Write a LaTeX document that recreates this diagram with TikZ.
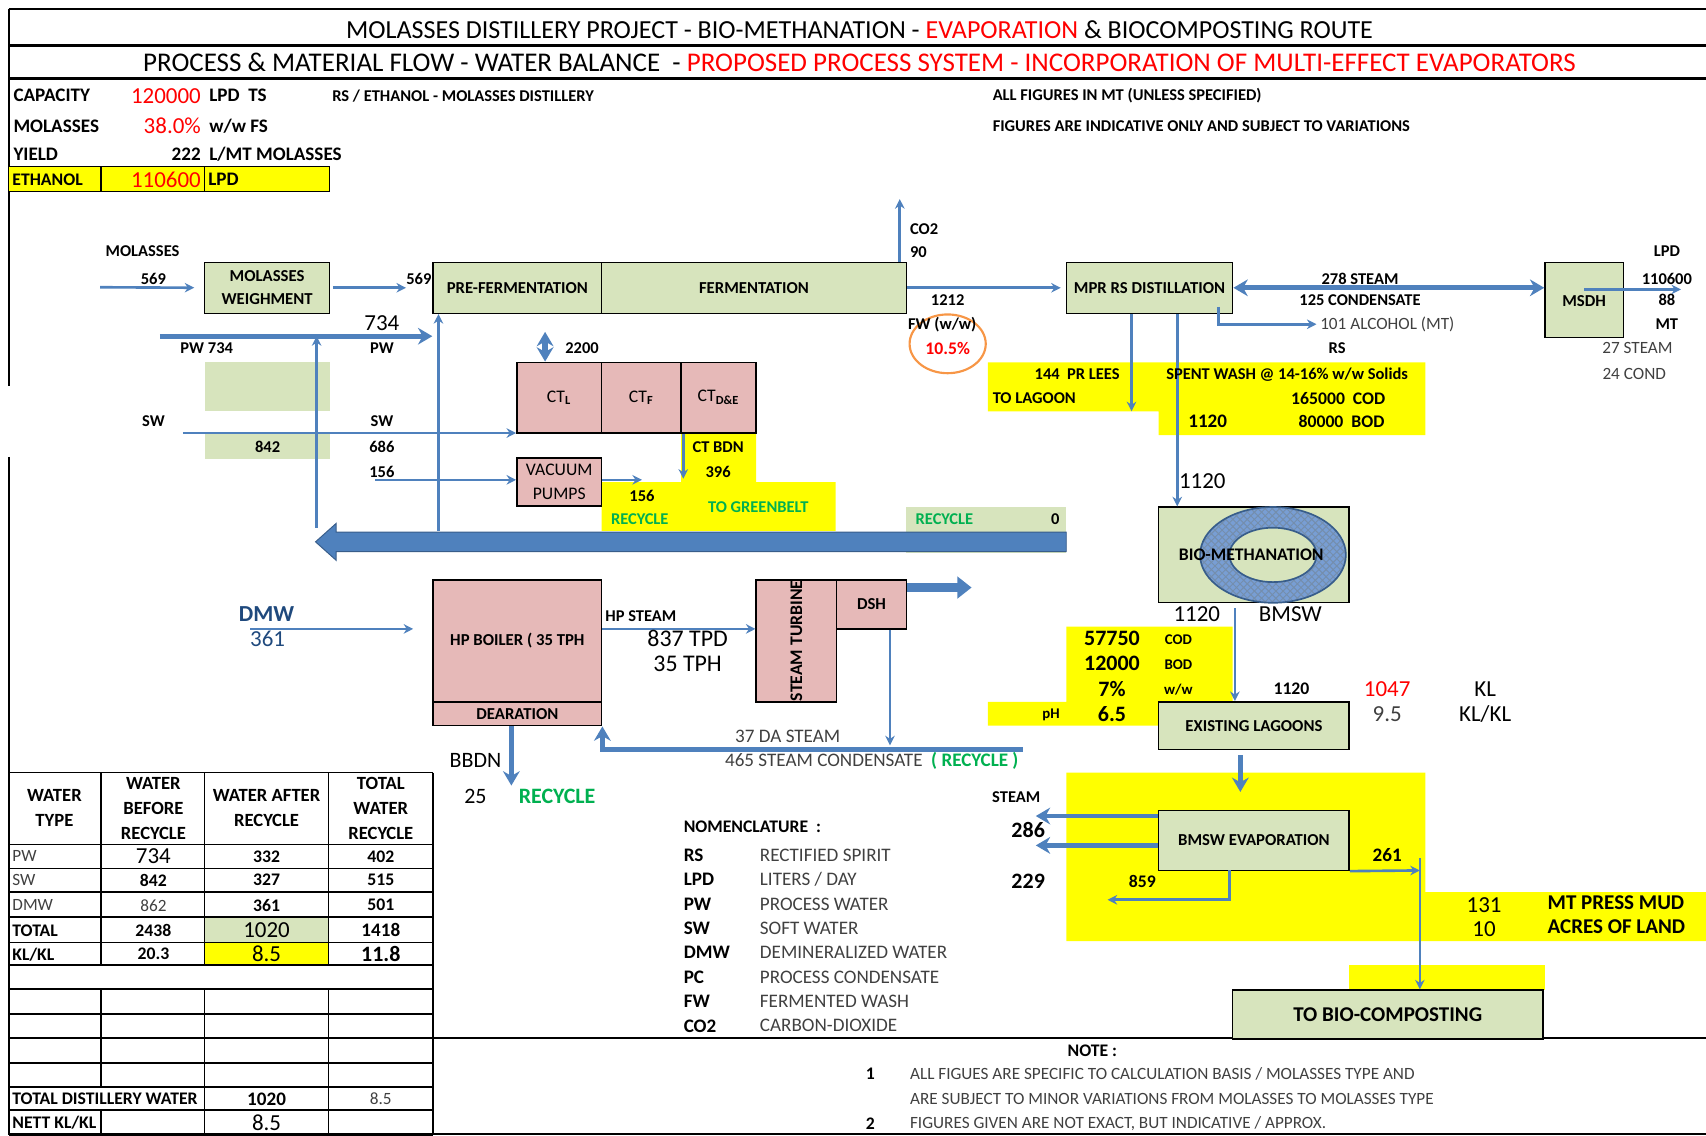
\documentclass[tikz,border=0pt]{standalone}
\usepackage{fontspec}
\setmainfont{Carlito}
\usetikzlibrary{arrows.meta, fit, patterns}
\definecolor{boxgreen}{RGB}{215,228,189}
\definecolor{boxpink}{RGB}{230,185,184}
\definecolor{hiyellow}{RGB}{255,255,0}
\definecolor{flowblue}{RGB}{79,129,189}
\definecolor{blueedge}{RGB}{56,93,138}
\definecolor{ringblue}{RGB}{120,158,212}
\definecolor{recgreen}{RGB}{0,176,80}
\definecolor{navy}{RGB}{31,73,125}
\definecolor{txtgray}{RGB}{64,64,64}
\definecolor{circorange}{RGB}{247,150,70}
\newcommand{\fsz}[1]{\fontsize{#1}{#1}\selectfont}

\begin{document}
\begin{tikzpicture}[x=0.016cm, y=-0.016cm,
  every node/.style={inner sep=0pt},
  box/.style={draw, line width=0.6pt},
  gbox/.style={box, fill=boxgreen},
  pbox/.style={box, fill=boxpink},
  btxt/.style={align=center, font=\fontsize{7}{9.5}\selectfont\bfseries},
  l6/.style={font=\fsz{6.9}\bfseries},
  l7/.style={font=\fsz{7.4}\bfseries},
  l8/.style={font=\fsz{8}\bfseries},
  l9/.style={font=\fsz{9.2}\bfseries},
  r7/.style={font=\fsz{7.2}, text=txtgray},
  r8/.style={font=\fsz{8}, text=txtgray},
  r9/.style={font=\fsz{9.6}},
  grn/.style={text=recgreen},
  arr/.style={draw=flowblue, line width=1.1pt, -{Stealth[length=4pt,width=4pt]}},
  tarr/.style={draw=flowblue, line width=2pt, -{Stealth[length=6pt,width=7pt]}},
  darr/.style={draw=flowblue, line width=2.2pt,
    {Stealth[length=6pt,width=7pt]}-{Stealth[length=6pt,width=7pt]}},
  zone/.style={fill=hiyellow},
]
\useasboundingbox (0,0) rectangle (1568,1044);

% frame
\draw[line width=0.8pt] (8,8) -- (1568,8);
\draw[line width=1.3pt] (8,42) -- (1568,42);
\draw[line width=1.3pt] (8,72) -- (1568,72);
\draw[line width=0.8pt] (8,8) -- (8,355);
\draw[line width=0.8pt] (8,420) -- (8,1043);
\draw[line width=0.8pt] (398,954) -- (1568,954);
\draw[line width=0.8pt] (8,1042) -- (1568,1042);

\node[font=\fsz{10.9}] (title) at (790,27)
  {MOLASSES DISTILLERY PROJECT - BIO-METHANATION - \textcolor{red}{EVAPORATION} \& BIOCOMPOSTING ROUTE};
\node[font=\fsz{11.3}] (subtitle) at (790,57)
  {PROCESS \& MATERIAL FLOW - WATER BALANCE \ - \textcolor{red}{PROPOSED PROCESS SYSTEM - INCORPORATION OF MULTI-EFFECT EVAPORATORS}};

% capacity data
\draw[fill=hiyellow, line width=0.6pt] (8,153) rectangle (303,176);
\draw[line width=0.6pt] (93,153) -- (93,176) (188,153) -- (188,176);
\node[l8, anchor=west] (cap) at (12,88) {CAPACITY};
\node[r9, text=red, anchor=east] (capv) at (185,88) {120000};
\node[l8, anchor=west] (capu) at (192,88) {LPD\ \ TS};
\node[l8, anchor=west] (mol) at (12,116) {MOLASSES};
\node[r9, text=red, anchor=east] (molv) at (185,116) {38.0\%};
\node[l8, anchor=west] (molu) at (192,116) {w/w FS};
\node[l8, anchor=west] (yld) at (12,142) {YIELD};
\node[l8, anchor=east] (yldv) at (185,142) {222};
\node[l8, anchor=west] (yldu) at (192,142) {L/MT MOLASSES};
\node[l7, anchor=west] (eth) at (11,165) {ETHANOL};
\node[r9, text=red, anchor=east] (ethv) at (185,165) {110600};
\node[l8, anchor=west] (ethu) at (191,165) {LPD};
\node[l6, anchor=west] (rsnote) at (305,88) {RS / ETHANOL - MOLASSES DISTILLERY};
\node[l6, anchor=west] (allfig) at (912,88) {ALL FIGURES IN MT (UNLESS SPECIFIED)};
\node[l6, anchor=west] (indic) at (912,116) {FIGURES ARE INDICATIVE ONLY AND SUBJECT TO VARIATIONS};

% coloured zones
\fill[boxgreen] (188,333) rectangle (303,378);
\fill[boxgreen] (188,398) rectangle (303,422);
\fill[zone] (908,333) -- (1310,333) -- (1310,400) -- (1065,400) -- (1065,378) -- (908,378) -- cycle;
\fill[zone] (626,398) -- (695,398) -- (695,443) -- (768,443) -- (768,488) -- (553,488) -- (553,443) -- (626,443) -- cycle;
\fill[boxgreen] (833,466) rectangle (980,508);
\fill[zone] (980,576) -- (1133,576) -- (1133,645) -- (1065,645) -- (1065,667) -- (908,667) -- (908,645) -- (980,645) -- cycle;
\fill[zone] (980,710) -- (1310,710) -- (1310,820) -- (1568,820) -- (1568,865) -- (980,865) -- cycle;
\fill[zone] (1240,887) rectangle (1420,910);

% process blocks
\node[gbox, fit={(188,241) (303,288)}] (mw) {};
\node[btxt] (mwt) at (mw) {MOLASSES\\WEIGHMENT};
\node[gbox, fit={(398,241) (553,288)}] (pref) {};
\node[btxt] (preft) at (pref) {PRE-FERMENTATION};
\node[gbox, fit={(553,241) (833,288)}] (ferm) {};
\node[btxt] (fermt) at (ferm) {FERMENTATION};
\node[gbox, fit={(980,241) (1133,288)}] (mpr) {};
\node[btxt] (mprt) at (mpr) {MPR RS DISTILLATION};
\node[gbox, fit={(1420,241) (1492,310)}] (msdh) {};
\node[btxt] (msdht) at (1456,277) {MSDH};
\node[pbox, fit={(475,333) (553,398)}] (ctl) {};
\node[font=\fsz{7.4}] (ctlt) at (ctl) {CT\textsubscript{\bfseries L}};
\node[pbox, fit={(553,333) (626,398)}] (ctf) {};
\node[font=\fsz{7.4}] (ctft) at (ctf) {CT\textsubscript{\bfseries F}};
\node[pbox, fit={(626,333) (695,398)}] (ctde) {};
\node[font=\fsz{7.4}] (ctdet) at (ctde) {CT\textsubscript{\bfseries D\&E}};
\node[pbox, fit={(475,421) (553,465)}] (vac) {};
\node[align=center, font=\fontsize{7.4}{9.8}\selectfont] (vact) at (vac) {VACUUM\\PUMPS};
\node[pbox, fit={(398,533) (553,645)}] (boiler) {};
\node[btxt] (boilert) at (boiler) {HP BOILER ( 35 TPH};
\node[pbox, fit={(398,645) (553,667)}] (dear) {};
\node[btxt] (deart) at (dear) {DEARATION};
\node[pbox, fit={(695,533) (769,645)}] (turb) {};
\node[l7, rotate=90] (turbt) at (turb.center) {STEAM TURBINE};
\node[pbox, fit={(769,533) (833,578)}] (dsh) {};
\node[btxt] (dsht) at (dsh) {DSH};
\node[gbox, fit={(1065,466) (1240,554)}] (bio) {};
\node[gbox, fit={(1065,645) (1240,689)}] (lag) {};
\node[btxt] (lagt) at (lag) {EXISTING LAGOONS};
\node[gbox, fit={(1065,745) (1240,800)}] (evap) {};
\node[btxt] (evapt) at (evap) {BMSW EVAPORATION};
\node[gbox, fit={(1133,910) (1418,955)}] (comp) {};
\node[font=\fsz{8.8}\bfseries] (compt) at (comp) {TO BIO-COMPOSTING};

% digester ring
\fill[ringblue, even odd rule] (1170,510) ellipse [x radius=67, y radius=44]
  (1170,510) ellipse [x radius=40, y radius=25];
\fill[pattern=crosshatch, pattern color=blueedge!70, even odd rule]
  (1170,510) ellipse [x radius=67, y radius=44]
  (1170,510) ellipse [x radius=40, y radius=25];
\draw[blueedge, line width=0.7pt] (1170,510) ellipse [x radius=67, y radius=44]
  (1170,510) ellipse [x radius=40, y radius=25];
\node[l7] (biot) at (1150,510) {BIO-METHANATION};
\draw[circorange, line width=0.9pt] (871,316) ellipse [x radius=35, y radius=27];

% feed side
\coordinate (molin) at (92,264);
\draw[arr, shorten >=4pt] (molin) -- (mw.west);
\draw[arr, shorten <=1pt, shorten >=11pt] (mw.east) -- (pref.west);
\coordinate (co2) at (827,183);
\draw[arr] (co2 |- ferm.north) -- (co2);
\draw[arr, shorten >=2pt] (ferm.east) -- (mpr.west);
\draw[darr] (mpr.east) -- (mpr.east -| msdh.west);
\coordinate (alcs) at (1120,282);
\coordinate (alc) at (1210,298);
\draw[arr] (alcs) |- (alc);
\coordinate (lpd) at (1545,266);
\draw[arr] (msdh.center |- lpd) -- (lpd);
\coordinate (lees) at (1040,378);
\draw[arr] (lees |- mpr.south) -- (lees);
\coordinate (spw) at (1082,300);
\draw[arr] (spw |- mpr.south) -- (spw |- bio.north);
\coordinate (bmsw) at (1135,600);
\draw[arr, shorten <=2pt] (bmsw |- bio.south) -- (bmsw |- lag.north);
\coordinate (lagout) at (1140,700);
\draw[tarr, shorten <=2pt, shorten >=7.5pt] (lagout |- lag.south) -- (lagout |- evap.north);
\coordinate (st1) at (952,750);
\coordinate (st2) at (952,777);
\draw[tarr] (evap.west |- st1) -- (st1);
\draw[tarr] (evap.west |- st2) -- (st2);
\coordinate (c859) at (1018,827);
\coordinate (c859s) at (1130,800);
\draw[arr] (c859s) |- (c859);
\coordinate (c261) at (1305,800);
\draw[arr] (evap.south east) -- (c261);
\draw[arr, shorten <=-5pt] (c261) -- (c261 |- comp.north);

% water lines
\coordinate (pwin) at (147,309);
\draw[tarr] (pwin) -- (pwin -| pref.west);
\coordinate (ret1) at (291,485);
\draw[arr] (ret1) -- (ret1 |- pwin);
\coordinate (ret2) at (403,488);
\draw[arr] (ret2) -- (ret2 |- pref.south);
\coordinate (swin) at (168,398);
\draw[arr] (swin) -- (swin -| ctl.west);
\coordinate (vin) at (345,441);
\draw[arr] (vin) -- (vin -| vac.west);
\coordinate (vout) at (590,441);
\draw[arr] (vac.east |- vout) -- (vout);
\coordinate (bdn) at (628,440);
\draw[arr] (bdn |- ctde.south) -- (bdn);
\coordinate (c2200) at (501,305);
\draw[darr] (c2200) -- (c2200 |- ctl.north);
\fill[flowblue, draw=blueedge, line width=0.4pt] (980,489) -- (309,489) -- (309,481)
  -- (290,498) -- (309,515) -- (309,507) -- (980,507) -- cycle;

% steam side
\coordinate (dmw) at (230,578);
\draw[arr, shorten >=8pt] (dmw) -- (dmw -| boiler.west);
\draw[arr] (boiler.east |- dmw) -- (turb.west |- dmw);
\coordinate (dshout) at (893,540);
\draw[flowblue, line width=3.4pt, -{Triangle[length=6pt,width=9pt]}] (dsh.east |- dshout) -- (dshout);
\coordinate (dshd) at (818,685);
\draw[arr] (dshd |- dsh.south) -- (dshd);
\coordinate (cond) at (940,689);
\draw[tarr] (cond) -| (dear.south east);
\coordinate (bb) at (470,722);
\draw[tarr] (bb |- dear.south) -- (bb);

% flow labels
\node[l6] (molt) at (131,231) {MOLASSES};
\node[l6] (m569a) at (141,256) {569};
\node[l6] (m569b) at (385,256) {569};
\node[r9] (pw734) at (351,297) {734};
\node[l6] (pwa) at (190,320) {PW 734};
\node[l6] (pwb) at (351,320) {PW};
\node[l6] (swa) at (141,387) {SW};
\node[l6] (swb) at (351,387) {SW};
\node[l6] (s686) at (351,411) {686};
\node[l6] (s842) at (246,411) {842};
\node[l6] (s156) at (351,434) {156};
\node[l6] (t2200) at (535,320) {2200};
\node[l6, anchor=west] (co2t) at (836,211) {CO2};
\node[l6, anchor=west] (co2v) at (836,232) {90};
\node[l6] (fw1212) at (871,276) {1212};
\node[l6] (fwt) at (866,298) {FW (w/w)};
\node[l7, text=red] (fwp) at (871,320) {10.5\%};
\node[l6] (stm278) at (1250,256) {278 STEAM};
\node[l6] (cnd125) at (1250,276) {125 CONDENSATE};
\node[r7, anchor=west] (alct) at (1213,298) {101 ALCOHOL (MT)};
\node[l6] (rst) at (1229,320) {RS};
\node[l6] (lpdt) at (1532,231) {LPD};
\node[l6] (lpdv) at (1532,256) {110600};
\node[l6] (mt88) at (1532,276) {88};
\node[l6] (mtt) at (1532,298) {MT};
\node[r7] (stm27) at (1505,320) {27 STEAM};
\node[r7] (cnd24) at (1502,344) {24 COND};
\node[l6] (lees144) at (990,344) {144\ \ PR LEES};
\node[l6, anchor=west] (leest) at (912,366) {TO LAGOON};
\node[l6] (spwt) at (1183,344) {SPENT WASH @ 14-16\% w/w Solids};
\node[l7] (cod1) at (1230,366) {165000\ \ COD};
\node[l8] (spw1120) at (1110,387) {1120};
\node[l7] (bod1) at (1233,387) {80000\ \ BOD};
\node[r9] (bio1120) at (1105,442) {1120};
\node[r9] (out1120) at (1100,564) {1120};
\node[r9] (bmswt) at (1186,564) {BMSW};
\node[l9] (cod2) at (1022,587) {57750};
\node[font=\fsz{6.2}\bfseries] (cod2t) at (1083,588) {COD};
\node[l9] (bod2) at (1022,610) {12000};
\node[font=\fsz{6.2}\bfseries] (bod2t) at (1083,611) {BOD};
\node[l9] (ts2) at (1022,633) {7\%};
\node[font=\fsz{6.2}\bfseries] (ts2t) at (1083,634) {w/w};
\node[font=\fsz{6.2}\bfseries] (pht) at (966,657) {pH};
\node[l9] (phv) at (1022,656) {6.5};
\node[l7] (lag1120) at (1187,633) {1120};
\node[r9, text=red] (kl1047) at (1275,633) {1047};
\node[r9] (klt) at (1365,633) {KL};
\node[r9, text=txtgray] (kl95) at (1275,656) {9.5};
\node[r9] (klkl) at (1365,656) {KL/KL};
\node[l6] (evst) at (934,733) {STEAM};
\node[l9] (ev286) at (945,763) {286};
\node[l9] (ev229) at (945,810) {229};
\node[l7] (ev859) at (1050,810) {859};
\node[l8] (ev261) at (1275,786) {261};
\node[r9] (pm131) at (1364,832) {131};
\node[r9] (pm10) at (1364,854) {10};
\node[font=\fsz{8.8}\bfseries, anchor=west] (pmt) at (1422,830) {MT PRESS MUD};
\node[font=\fsz{8.8}\bfseries, anchor=west] (acr) at (1422,852) {ACRES OF LAND};
\node[l6] (bdnt) at (660,411) {CT BDN};
\node[l6] (bdnv) at (660,434) {396};
\node[l6] (vac156) at (590,456) {156};
\node[l6, grn] (recy1) at (588,477) {RECYCLE};
\node[l6, grn] (green) at (697,466) {TO GREENBELT};
\node[l6, grn] (recy2) at (868,477) {RECYCLE};
\node[l6] (recy0) at (970,477) {0};

\node[font=\fsz{9.6}\bfseries, text=navy] (dmwt) at (245,564) {DMW};
\node[font=\fsz{9.6}, text=navy] (dmwv) at (246,587) {361};
\node[l6, anchor=west] (hpst) at (556,566) {HP STEAM};
\node[font=\fsz{10}] (tpd) at (632,587) {837 TPD};
\node[font=\fsz{10}] (tph) at (632,610) {35 TPH};
\node[r8] (dast) at (724,677) {37 DA STEAM};
\node[r8, anchor=west] (condt) at (666,699) {465 STEAM CONDENSATE\ \ \textcolor{recgreen}{\bfseries ( RECYCLE )}};
\node[font=\fsz{9.2}] (bbdnt) at (437,699) {BBDN};
\node[font=\fsz{9.2}] (bbdnv) at (437,732) {25};
\node[font=\fsz{9.2}\bfseries, grn] (bbrec) at (512,732) {RECYCLE};

% water table
\fill[boxgreen] (188,843) rectangle (302,866);
\fill[hiyellow] (188,866) rectangle (302,887);
\foreach \ty in {710,776,798,820,843,866,887,909,932,954,977,999,1020,1043}
  \draw[line width=0.6pt] (8,\ty) -- (398,\ty);
\draw[line width=0.6pt] (398,710) -- (398,1043);
\foreach \tx in {93,188,302}
  \draw[line width=0.6pt] (\tx,710) -- (\tx,887);
\draw[line width=0.6pt] (93,909) -- (93,999) (93,1020) -- (93,1043);
\draw[line width=0.6pt] (188,909) -- (188,1043) (302,909) -- (302,1043);
\node[align=center, font=\fontsize{7.8}{10.5}\selectfont\bfseries] (th1) at (50,743) {WATER\\TYPE};
\node[align=center, font=\fontsize{7.8}{10.5}\selectfont\bfseries] (th2) at (141,743) {WATER\\BEFORE\\RECYCLE};
\node[align=center, font=\fontsize{7.8}{10.5}\selectfont\bfseries] (th3) at (245,743) {WATER AFTER\\RECYCLE};
\node[align=center, font=\fontsize{7.8}{10.5}\selectfont\bfseries] (th4) at (350,743) {TOTAL\\WATER\\RECYCLE};
\node[r7, anchor=west] (tpw) at (11,787) {PW};
\node[r9] (tpw1) at (141,787) {734};
\node[l7] (tpw2) at (245,787) {332};
\node[l7] (tpw3) at (350,787) {402};
\node[r7, anchor=west] (tsw) at (11,809) {SW};
\node[l7] (tsw1) at (141,809) {842};
\node[l7] (tsw2) at (245,809) {327};
\node[l7] (tsw3) at (350,809) {515};
\node[r7, anchor=west] (tdm) at (11,832) {DMW};
\node[r7] (tdm1) at (141,832) {862};
\node[l7] (tdm2) at (245,832) {361};
\node[l7] (tdm3) at (350,832) {501};
\node[l7, anchor=west] (ttot) at (11,855) {TOTAL};
\node[l7] (ttot1) at (141,855) {2438};
\node[r9] (ttot2) at (245,855) {1020};
\node[l8] (ttot3) at (350,855) {1418};
\node[l7, anchor=west] (tkl) at (11,877) {KL/KL};
\node[l7] (tkl1) at (141,877) {20.3};
\node[r9] (tkl2) at (245,877) {8.5};
\node[l9] (tkl3) at (350,877) {11.8};
\node[l7, anchor=west] (tdist) at (11,1010) {TOTAL DISTILLERY WATER};
\node[l8] (tdist2) at (245,1010) {1020};
\node[r7] (tdist3) at (350,1010) {8.5};
\node[l7, anchor=west] (tnett) at (11,1032) {NETT KL/KL};
\node[r9] (tnett2) at (245,1032) {8.5};

% nomenclature
\node[l7, anchor=west] (nomt) at (628,760) {NOMENCLATURE\ \ :};
\foreach \ab/\me [count=\i] in {RS/RECTIFIED SPIRIT, LPD/{LITERS / DAY}, PW/PROCESS WATER,
    SW/SOFT WATER, DMW/DEMINERALIZED WATER, PC/PROCESS CONDENSATE,
    FW/FERMENTED WASH, CO2/CARBON-DIOXIDE} {
  \node[l8, anchor=west] (nab\i) at (628,{786+(\i-1)*22.4}) {\ab};
  \node[r8, anchor=west] (nme\i) at (698,{786+(\i-1)*22.4}) {\me};
}

% notes
\node[l7] (notet) at (1004,966) {NOTE :};
\node[l7] (note1) at (800,987) {1};
\node[r7, anchor=west] (note1a) at (836,987) {ALL FIGUES ARE SPECIFIC TO CALCULATION BASIS / MOLASSES TYPE AND};
\node[r7, anchor=west] (note1b) at (836,1010) {ARE SUBJECT TO MINOR VARIATIONS FROM MOLASSES TO MOLASSES TYPE};
\node[l7] (note2) at (800,1033) {2};
\node[r7, anchor=west] (note2a) at (836,1033) {FIGURES GIVEN ARE NOT EXACT, BUT INDICATIVE / APPROX.};
\end{tikzpicture}
\end{document}
